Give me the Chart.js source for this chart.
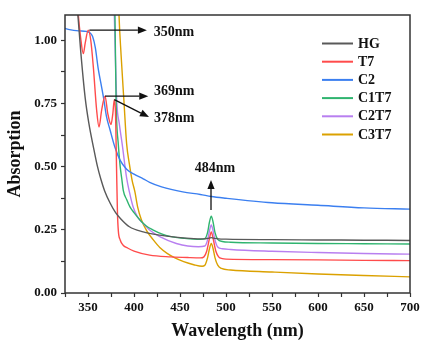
<!DOCTYPE html>
<html>
<head>
<meta charset="utf-8">
<script src="https://cdn.jsdelivr.net/npm/chart.js@4/dist/chart.umd.min.js"></script>
<style>
  html, body { margin: 0; padding: 0; background: #ffffff; }
  #wrap { width: 429px; height: 346px; }
</style>
</head>
<body>
<div id="wrap"><canvas id="c" width="429" height="346"></canvas></div>
<script>
// ---------------- data ----------------
const seriesNames = ['HG', 'T7', 'C2', 'C1T7', 'C2T7', 'C3T7'];
const seriesColors = ['#595959', '#ff4b4b', '#3b7ff0', '#2fb46f', '#b87ff0', '#dba100'];

const wlHG  = [338, 339, 342, 347, 351, 356, 360, 364, 368, 374, 380, 385, 395, 410, 428, 445, 461, 476, 480, 484, 488, 492, 500, 550, 600, 650, 700];
const absHG = [1.14, 1.10, 0.96, 0.77, 0.67, 0.575, 0.505, 0.45, 0.405, 0.356, 0.318, 0.296, 0.262, 0.242, 0.229, 0.221, 0.216, 0.214, 0.216, 0.219, 0.216, 0.214, 0.213, 0.211, 0.21, 0.209, 0.208];

const wlT7  = [338.5, 339.5, 342, 344.9, 347, 350.3, 353, 355.8, 359.4, 362, 364.8, 368.5, 371.5, 375, 377, 378.6, 380, 381, 382, 383, 385, 388, 393, 400, 417, 440, 460, 472, 476, 479, 482, 484, 486, 489, 492, 496, 500, 550, 600, 650, 700];
const absT7 = [1.16, 1.10, 1.01, 0.947, 0.99, 1.04, 1.0, 0.894, 0.723, 0.657, 0.723, 0.779, 0.71, 0.667, 0.71, 0.765, 0.70, 0.50, 0.32, 0.245, 0.21, 0.19, 0.178, 0.166, 0.15, 0.143, 0.14, 0.139, 0.143, 0.165, 0.215, 0.242, 0.215, 0.165, 0.143, 0.136, 0.134, 0.132, 0.131, 0.129, 0.128];

const wlC2  = [325, 330, 340, 348, 352, 355, 358, 361, 364, 367, 370, 374, 379, 385, 392, 400, 410, 417, 430, 453, 472, 484, 500, 550, 600, 650, 700];
const absC2 = [1.047, 1.042, 1.037, 1.035, 1.03, 1.015, 0.97, 0.89, 0.83, 0.77, 0.70, 0.645, 0.58, 0.525, 0.49, 0.47, 0.452, 0.438, 0.42, 0.40, 0.39, 0.382, 0.375, 0.357, 0.347, 0.337, 0.332];

const wlC1T7  = [379, 379.3, 380.5, 383, 385, 386.6, 388.4, 392, 395.6, 400, 406.5, 413, 421, 430, 439, 455, 472, 477, 480, 482, 484, 486, 488, 491, 496, 505, 550, 600, 650, 700];
const absC1T7 = [1.14, 1.10, 0.763, 0.585, 0.50, 0.455, 0.405, 0.37, 0.341, 0.318, 0.289, 0.266, 0.249, 0.234, 0.224, 0.216, 0.212, 0.215, 0.24, 0.28, 0.304, 0.28, 0.24, 0.212, 0.204, 0.201, 0.198, 0.196, 0.195, 0.194];

const wlC2T7  = [378.3, 378.6, 381.2, 384, 387.3, 392, 395, 399, 404, 410, 418, 428, 446, 470, 477, 480, 482, 484, 486, 488, 491, 496, 505, 550, 600, 650, 700];
const absC2T7 = [1.14, 1.10, 0.763, 0.67, 0.585, 0.455, 0.40, 0.341, 0.30, 0.275, 0.246, 0.223, 0.196, 0.183, 0.186, 0.21, 0.245, 0.269, 0.245, 0.21, 0.182, 0.175, 0.172, 0.165, 0.16, 0.156, 0.154];

const wlC3T7  = [383.4, 383.7, 386, 389, 392, 395, 398, 401, 404, 408, 414, 421, 428, 436, 445, 454, 465, 474, 477, 480, 482, 484, 486, 488, 491, 495, 505, 550, 600, 650, 700];
const absC3T7 = [1.14, 1.10, 0.94, 0.763, 0.59, 0.51, 0.445, 0.40, 0.34, 0.29, 0.245, 0.21, 0.18, 0.157, 0.138, 0.124, 0.112, 0.106, 0.11, 0.14, 0.175, 0.196, 0.175, 0.14, 0.11, 0.097, 0.091, 0.083, 0.075, 0.069, 0.064];

const xMajorTicks = [350, 400, 450, 500, 550, 600, 650, 700];
const xMinorTicks = [325, 375, 425, 475, 525, 575, 625, 675];
const yMajorTicks = [0.00, 0.25, 0.50, 0.75, 1.00];
const yMinorTicks = [0.125, 0.375, 0.625, 0.875];

// annotations (data units)
const annoLabels = ['350nm', '369nm', '378nm', '484nm'];
const annoFromX  = [351.5, 368.5, 378.6, 483.7];
const annoFromY  = [1.040, 0.779, 0.765, 0.328];
const annoToX    = [414.0, 415.5, 416.3, 483.7];
const annoToY    = [1.040, 0.779, 0.696, 0.447];
const annoTextX  = [421.5, 421.8, 421.8, 488.0];
const annoTextY  = [1.033, 0.796, 0.690, 0.493];
const annoAlign  = ['left', 'left', 'left', 'center'];

// ---------------- chart ----------------
const xs = [wlHG, wlT7, wlC2, wlC1T7, wlC2T7, wlC3T7];
const ys = [absHG, absT7, absC2, absC1T7, absC2T7, absC3T7];
const FONT = '"Liberation Serif", "Times New Roman", serif';

const datasets = seriesNames.map((name, k) => ({
  label: name,
  data: xs[k].map((x, i) => ({ x: x, y: ys[k][i] })),
  borderColor: seriesColors[k],
  backgroundColor: seriesColors[k],
  borderWidth: 1.4,
  pointRadius: 0,
  fill: false,
  cubicInterpolationMode: 'monotone'
}));

const framePlugin = {
  id: 'frame',
  afterDatasetsDraw(chart) {
    const { ctx, chartArea: a, scales } = chart;
    ctx.save();
    // frame
    ctx.strokeStyle = '#333';
    ctx.lineWidth = 1.5;
    ctx.strokeRect(a.left, a.top, a.right - a.left, a.bottom - a.top);

    // legend
    ctx.font = 'bold 14px ' + FONT;
    ctx.textBaseline = 'middle';
    ctx.textAlign = 'left';
    seriesNames.forEach((name, i) => {
      const y = a.top + 28.5 + i * 18.2;
      const x0 = a.right - 88;
      ctx.strokeStyle = seriesColors[i];
      ctx.lineWidth = 2;
      ctx.beginPath();
      ctx.moveTo(x0, y);
      ctx.lineTo(x0 + 31, y);
      ctx.stroke();
      ctx.fillStyle = '#111';
      ctx.fillText(name, x0 + 36, y + 0.5);
    });

    // arrows + labels
    const sx = scales.x, sy = scales.y;
    ctx.strokeStyle = '#111';
    ctx.fillStyle = '#111';
    annoLabels.forEach((lab, i) => {
      const x1 = sx.getPixelForValue(annoFromX[i]), y1 = sy.getPixelForValue(annoFromY[i]);
      const x2 = sx.getPixelForValue(annoToX[i]),   y2 = sy.getPixelForValue(annoToY[i]);
      const ang = Math.atan2(y2 - y1, x2 - x1);
      const hl = 9, hw = 3.6;
      const bx = x2 - hl * Math.cos(ang), by = y2 - hl * Math.sin(ang);
      ctx.lineWidth = 1.3;
      ctx.beginPath();
      ctx.moveTo(x1, y1);
      ctx.lineTo(bx, by);
      ctx.stroke();
      ctx.beginPath();
      ctx.moveTo(x2, y2);
      ctx.lineTo(bx + hw * Math.sin(ang), by - hw * Math.cos(ang));
      ctx.lineTo(bx - hw * Math.sin(ang), by + hw * Math.cos(ang));
      ctx.closePath();
      ctx.fill();
      ctx.textAlign = annoAlign[i];
      ctx.textBaseline = 'middle';
      ctx.font = 'bold 14px ' + FONT;
      ctx.fillText(lab, sx.getPixelForValue(annoTextX[i]), sy.getPixelForValue(annoTextY[i]));
    });
    ctx.restore();
  }
};

function mergeTicks(major, minor) {
  return major.concat(minor).sort((a, b) => a - b).map(v => ({ value: v }));
}

new Chart(document.getElementById('c'), {
  type: 'line',
  data: { datasets: datasets },
  plugins: [framePlugin],
  options: {
    responsive: false,
    animation: false,
    devicePixelRatio: 1,
    layout: { padding: { left: 0, right: 19, top: 15, bottom: 0 } },
    plugins: { legend: { display: false }, tooltip: { enabled: false } },
    scales: {
      x: {
        type: 'linear',
        min: 325,
        max: 700,
        afterBuildTicks: (s) => { s.ticks = mergeTicks(xMajorTicks, xMinorTicks); },
        afterFit: (s) => { s.height = 53; },
        ticks: {
          autoSkip: false,
          maxRotation: 0,
          padding: 3,
          color: '#111',
          font: { family: FONT, size: 13, weight: 'bold' },
          callback: (v) => xMajorTicks.includes(v) ? String(v) : ''
        },
        grid: { drawOnChartArea: false, drawTicks: true, tickLength: 4, tickColor: '#333', tickWidth: 1.2 },
        border: { display: false },
        title: {
          display: true,
          text: 'Wavelength (nm)',
          color: '#111',
          font: { family: FONT, size: 18, weight: 'bold' },
          padding: { top: 0, bottom: 4 }
        }
      },
      y: {
        type: 'linear',
        min: 0,
        max: 1.1,
        afterBuildTicks: (s) => { s.ticks = mergeTicks(yMajorTicks, yMinorTicks); },
        afterFit: (s) => { s.width = 65; },
        ticks: {
          autoSkip: false,
          padding: 4,
          color: '#111',
          font: { family: FONT, size: 13, weight: 'bold' },
          callback: (v) => yMajorTicks.some(t => Math.abs(t - v) < 1e-9) ? v.toFixed(2) : ''
        },
        grid: { drawOnChartArea: false, drawTicks: true, tickLength: 4, tickColor: '#333', tickWidth: 1.2 },
        border: { display: false },
        title: {
          display: true,
          text: 'Absorption',
          color: '#111',
          font: { family: FONT, size: 18, weight: 'bold' },
          padding: { top: 5, bottom: 0 }
        }
      }
    }
  }
});
</script>
</body>
</html>
